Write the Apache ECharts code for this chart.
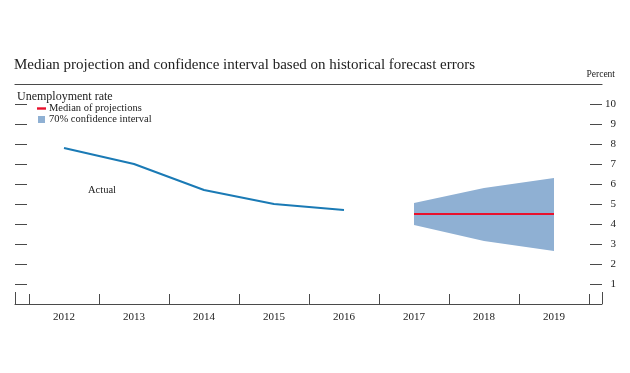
<!DOCTYPE html>
<html>
<head>
<meta charset="utf-8">
<script src="https://cdn.jsdelivr.net/npm/echarts@6/dist/echarts.min.js"></script>
<style>html,body{margin:0;padding:0;background:#fff}#c{width:630px;height:373px}</style>
</head>
<body>
<div id="c"></div>
<script>
var years = ['2012','2013','2014','2015','2016','2017','2018','2019'];
var actual = [7.8, 7.0, 5.7, 5.0, 4.7, null, null, null];
var median = [null, null, null, null, null, 4.5, 4.5, 4.5];
var bandLower = [null, null, null, null, null, 3.95, 3.15, 2.65];
var bandUpper = [null, null, null, null, null, 5.05, 5.8, 6.3];
var yTicks = [1,2,3,4,5,6,7,8,9,10];

var bandSpan = bandUpper.map(function (u, i) { return u == null ? null : +(u - bandLower[i]).toFixed(2); });

var serif = '"Liberation Serif", "DejaVu Serif", serif';
var txt = '#222';
var axisCol = '#4a4a4a';

var chart = echarts.init(document.getElementById('c'));
chart.setOption({
  animation: false,
  textStyle: { fontFamily: serif, color: txt },
  title: [
    { text: 'Median projection and confidence interval based on historical forecast errors', left: 9, top: 53,
      textStyle: { fontFamily: serif, fontSize: 15, fontWeight: 'normal', color: txt } },
    { text: 'Unemployment rate', left: 12, top: 86,
      textStyle: { fontFamily: serif, fontSize: 12, fontWeight: 'normal', color: txt } },
    { text: 'Percent', right: 10, top: 64,
      textStyle: { fontFamily: serif, fontSize: 9.5, fontWeight: 'normal', color: txt } },
    { text: 'Actual', left: 83, top: 180,
      textStyle: { fontFamily: serif, fontSize: 10.5, fontWeight: 'normal', color: txt } }
  ],
  legend: {
    orient: 'vertical', left: 32, top: 98, itemGap: 0, itemWidth: 9, itemHeight: 7,
    textStyle: { fontFamily: serif, fontSize: 10.5, lineHeight: 11, color: txt, padding: [0,0,0,-2] },
    data: [
      { name: 'Median of projections', icon: 'path://M0,0L9,0L9,2.4L0,2.4Z', itemStyle: { color: '#e8112d' } },
      { name: '70% confidence interval', icon: 'path://M0,0L7,0L7,7L0,7Z', itemStyle: { color: '#8fb0d3' } }
    ]
  },
  grid: [
    { left: 15, right: 28, top: 84, bottom: 69 },
    { left: 29, right: 41, top: 84, bottom: 69 }
  ],
  xAxis: [
    { gridIndex: 0, type: 'value', min: 0, max: 1, interval: 1, position: 'bottom',
      axisLine: { show: true, onZero: false, lineStyle: { color: axisCol, width: 1 } },
      axisTick: { show: true, inside: true, length: 12, lineStyle: { color: axisCol } },
      axisLabel: { show: false }, splitLine: { show: false } },
    { gridIndex: 0, type: 'value', min: 0, max: 1, position: 'top',
      axisLine: { show: true, onZero: false, lineStyle: { color: axisCol, width: 1.2 } },
      axisTick: { show: false }, axisLabel: { show: false }, splitLine: { show: false } },
    { gridIndex: 1, type: 'category', data: years, boundaryGap: true, position: 'bottom',
      axisLine: { show: false, onZero: false },
      axisTick: { show: true, inside: true, length: 10, interval: 0, lineStyle: { color: axisCol } },
      axisLabel: { show: true, interval: 0, margin: 8, fontFamily: serif, fontSize: 11, color: txt },
      splitLine: { show: false } }
  ],
  yAxis: [
    { gridIndex: 0, type: 'value', min: 0, max: 11, interval: 1, position: 'left',
      axisLine: { show: false, onZero: false },
      axisTick: { show: true, inside: true, length: 12, lineStyle: { color: axisCol } },
      axisLabel: { show: false }, splitLine: { show: false } },
    { gridIndex: 0, type: 'value', min: 0, max: 11, interval: 1, position: 'right',
      axisLine: { show: false, onZero: false },
      axisTick: { show: true, inside: true, length: 12, lineStyle: { color: axisCol } },
      axisLabel: { show: true, margin: 14, align: 'right', fontFamily: serif, fontSize: 11, color: txt,
        formatter: function (v) { return yTicks.indexOf(v) >= 0 ? String(v) : ''; } },
      splitLine: { show: false } },
    { gridIndex: 1, type: 'value', min: 0, max: 11, show: false, axisLine: { onZero: false } }
  ],
  series: [
    { name: 'bandBase', type: 'line', xAxisIndex: 2, yAxisIndex: 2, stack: 'band', data: bandLower,
      symbol: 'none', lineStyle: { opacity: 0 }, areaStyle: { opacity: 0 }, silent: true },
    { name: '70% confidence interval', type: 'line', xAxisIndex: 2, yAxisIndex: 2, stack: 'band', data: bandSpan,
      symbol: 'none', lineStyle: { opacity: 0 }, itemStyle: { color: '#8fb0d3' },
      areaStyle: { color: '#8fb0d3', opacity: 1 } },
    { name: 'Actual', type: 'line', xAxisIndex: 2, yAxisIndex: 2, data: actual,
      symbol: 'none', lineStyle: { color: '#1a7ab5', width: 2 }, itemStyle: { color: '#1a7ab5' } },
    { name: 'Median of projections', type: 'line', xAxisIndex: 2, yAxisIndex: 2, data: median,
      symbol: 'none', lineStyle: { color: '#e8112d', width: 2.2 }, itemStyle: { color: '#e8112d' } }
  ]
});
</script>
</body>
</html>
